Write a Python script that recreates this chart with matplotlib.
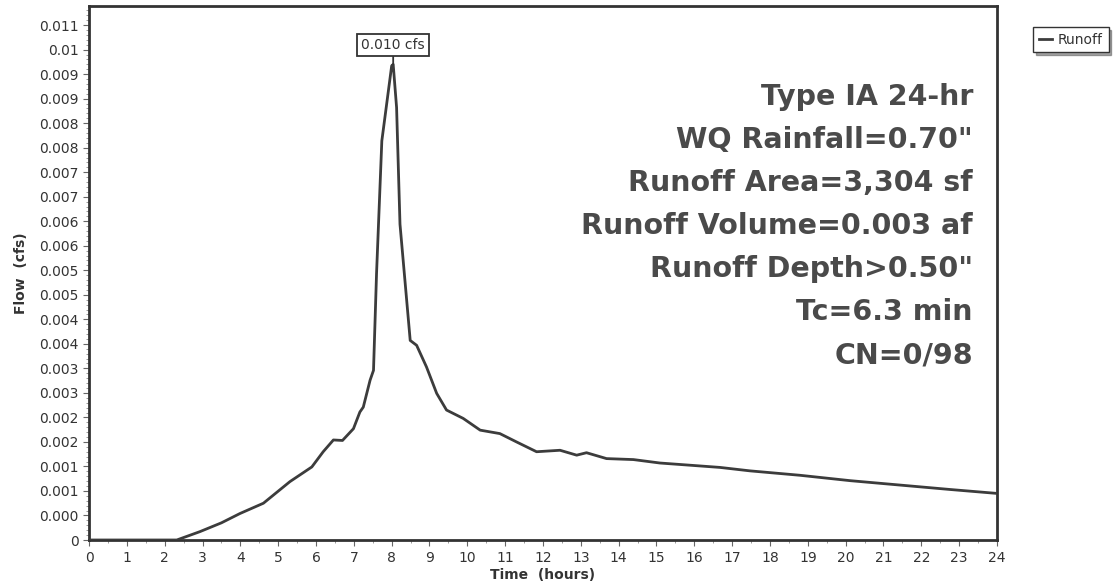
import matplotlib
matplotlib.use("Agg")
import matplotlib.pyplot as plt

# ---- data ----
time_h = [0.0, 1.0, 2.0, 2.32, 2.93, 3.5, 3.99, 4.61, 5.31, 5.89, 6.19, 6.46, 6.70,
          6.99, 7.16, 7.25, 7.43, 7.52, 7.60, 7.74, 7.82, 8.0, 8.04, 8.13, 8.22,
          8.49, 8.66, 8.92, 9.19, 9.45, 9.89, 10.34, 10.86, 11.30, 11.83, 12.45,
          12.89, 13.15, 13.68, 14.39, 15.09, 15.80, 16.68, 17.47, 18.79, 20.12,
          21.44, 22.76, 24.0]
flow_cfs = [0.0, 0.0, 0.0, 0.0, 0.00017, 0.00035, 0.00054, 0.00075, 0.00119, 0.00149,
            0.00180, 0.00204, 0.00203, 0.00227, 0.00261, 0.00271, 0.00326, 0.00346,
            0.00543, 0.00814, 0.00861, 0.00967, 0.00970, 0.00882, 0.00644, 0.00407,
            0.00397, 0.00353, 0.00299, 0.00265, 0.00248, 0.00224, 0.00217, 0.00200,
            0.00180, 0.00183, 0.00173, 0.00178, 0.00166, 0.00164, 0.00157, 0.00153,
            0.00148, 0.00141, 0.00132, 0.00121, 0.00112, 0.00103, 0.00095]
peak_time = 8.04
peak_flow = 0.00970
peak_label = "0.010 cfs"
series_name = "Runoff"

x_ticks = list(range(0, 25))
y_ticks = [0.0, 0.0005, 0.001, 0.0015, 0.002, 0.0025, 0.003, 0.0035, 0.004, 0.0045,
           0.005, 0.0055, 0.006, 0.0065, 0.007, 0.0075, 0.008, 0.0085, 0.009, 0.0095,
           0.010, 0.0105]
y_tick_labels = ["0", "0.000", "0.001", "0.001", "0.002", "0.002", "0.003", "0.003",
                 "0.004", "0.004", "0.005", "0.005", "0.006", "0.006", "0.007", "0.007",
                 "0.008", "0.008", "0.009", "0.009", "0.01", "0.011"]
info_lines = ["Type IA 24-hr", 'WQ Rainfall=0.70"', "Runoff Area=3,304 sf",
              "Runoff Volume=0.003 af", 'Runoff Depth>0.50"', "Tc=6.3 min", "CN=0/98"]

# ---- figure ----
W, H = 1118, 588
fig = plt.figure(figsize=(W / 100, H / 100), dpi=100)
ax = fig.add_axes([89 / W, 48 / H, 908 / W, (540 - 6) / H])

ink = "#333333"
ax.plot(time_h, flow_cfs, color="#3c3c3c", lw=2.0, label=series_name, zorder=3)

ax.set_xlim(0, 24)
ax.set_ylim(0, 0.01089)
ax.set_xticks(x_ticks)
ax.set_xticklabels([str(t) for t in x_ticks])
ax.set_yticks(y_ticks)
ax.set_yticklabels(y_tick_labels)
ax.set_xticks([t + 0.5 for t in x_ticks[:-1]], minor=True)
ax.set_yticks([i * 0.0001 for i in range(0, 109)], minor=True)

for s in ax.spines.values():
    s.set_linewidth(2.0)
    s.set_color(ink)

ax.tick_params(axis="both", which="major", direction="out", length=4, width=0.8,
               colors="#666666", labelcolor="#333333", labelsize=10)
ax.tick_params(axis="both", which="minor", direction="out", length=2, width=0.6,
               colors="#888888")
ax.tick_params(axis="x", which="major", pad=4)

ax.set_xlabel("Time  (hours)", fontsize=10, fontweight="bold", color="#333333", labelpad=2)
ax.set_ylabel("Flow  (cfs)", fontsize=10, fontweight="bold", color="#333333", labelpad=8)

# peak annotation
ax.annotate(peak_label, xy=(peak_time, peak_flow), xytext=(peak_time, 0.0101),
            textcoords="data", ha="center", va="center", fontsize=10, color="#333333",
            bbox=dict(boxstyle="square,pad=0.3", fc="white", ec=ink, lw=1.3),
            arrowprops=dict(arrowstyle="-", color=ink, lw=1.3, shrinkA=0, shrinkB=0))

# info text
for i, line in enumerate(info_lines):
    fig.text(973 / W, 1 - (105 + 43 * i) / H, line, ha="right", va="baseline",
             fontsize=20.5, fontweight="bold", color="#4a4a4a")

# legend
leg = fig.legend(loc="upper left", bbox_to_anchor=(1033 / W, 1 - 27 / H),
                 frameon=True, fancybox=False, shadow=True, fontsize=10,
                 handlelength=1.0, handletextpad=0.4, borderpad=0.4,
                 borderaxespad=0)
leg.get_frame().set_edgecolor(ink)
leg.get_frame().set_linewidth(1.0)
for t in leg.get_texts():
    t.set_color("#333333")

fig.savefig("out.png", dpi=100)
